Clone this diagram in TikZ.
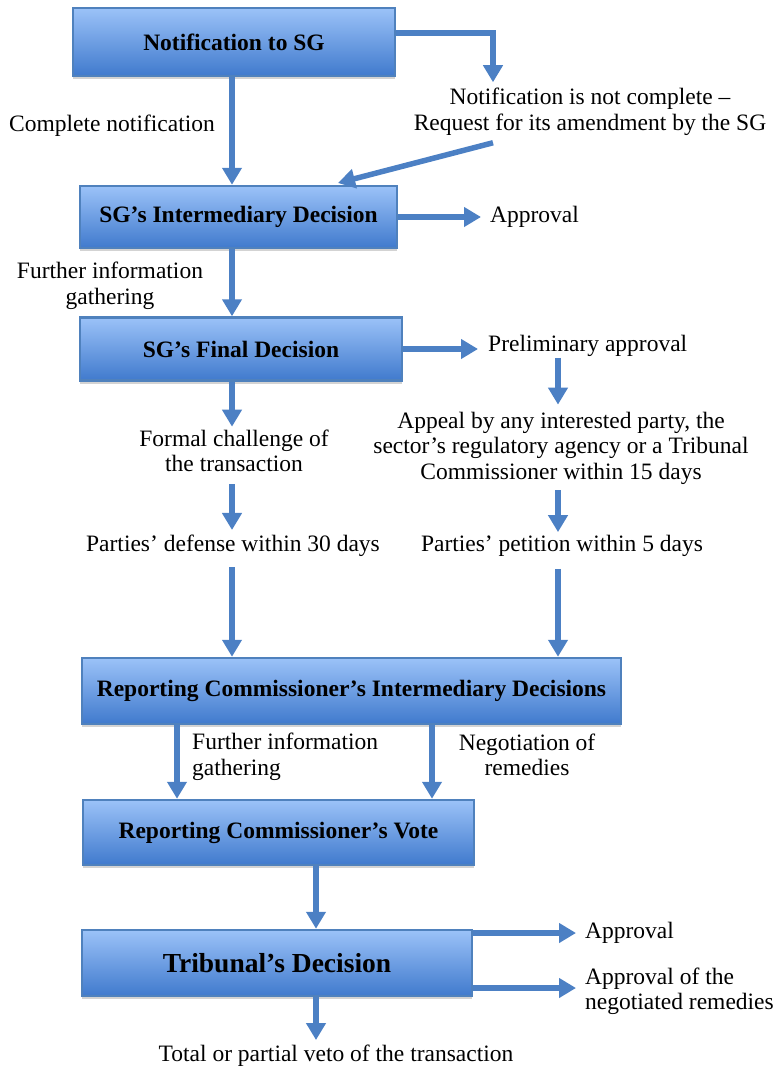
\documentclass[tikz,border=0pt]{standalone}
\usepackage{fontspec}
\setmainfont{Liberation Serif}
\usetikzlibrary{arrows.meta,shadows}
\definecolor{edgeblue}{RGB}{79,129,189}
\definecolor{topblue}{RGB}{155,194,248}
\definecolor{botblue}{RGB}{64,122,205}
\definecolor{flowblue}{RGB}{76,128,196}
\tikzset{
  stagebox/.style={draw=edgeblue, line width=2.5pt, top color=topblue, bottom color=botblue,
    drop shadow={shadow xshift=0pt, shadow yshift=-3pt, opacity=0.35},
    font=\bfseries\fontsize{23.5}{27}\selectfont, text=black, inner sep=0pt},
  flow/.style={draw=flowblue, line width=5.5pt, -{Triangle[width=19pt,length=17pt]}},
  note/.style={font=\fontsize{23.5}{25.5}\selectfont, inner sep=0pt},
}
\begin{document}
\begin{tikzpicture}[x=1pt,y=-1pt]
        \useasboundingbox (0,0) rectangle (778,1068);
        %% Columns
        \coordinate (lc) at (232,0);
        \coordinate (rc) at (558,0);
        \coordinate (bc) at (316,0);
        %% Boxes
        \node[stagebox, minimum width=322pt, minimum height=68pt] (notif) at (234,42) {Notification to SG};
        \node[stagebox, minimum width=317pt, minimum height=62pt] (interm) at (238.5,217) {SG’s Intermediary Decision};
        \node[stagebox, minimum width=322pt, minimum height=63pt] (final) at (241,349) {SG’s Final Decision};
        \node[stagebox, minimum width=539pt, minimum height=66pt] (rcinterm) at (351.5,691) {Reporting Commissioner’s Intermediary Decisions};
        \node[stagebox, minimum width=391pt, minimum height=65pt] (rcvote) at (278.5,832.5) {Reporting Commissioner’s Vote};
        \node[stagebox, minimum width=390pt, minimum height=66pt, font=\bfseries\fontsize{27.5}{31}\selectfont] (tribunal) at (277,963) {Tribunal’s Decision};
        %% Texts
        \node[note] (complete) at (112,126) {Complete notification};
        \node[note, align=center] (incomplete) at (590,112) {Notification is not complete –\\Request for its amendment by the SG};
        \node[note, anchor=west] (approvalA) at (490,217) {Approval};
        \node[note, align=center] (furtherA) at (110,286) {Further information\\gathering};
        \node[note, anchor=west] (prelim) at (488,346) {Preliminary approval};
        \node[note, align=center] (appeal) at (561,448) {Appeal by any interested party, the\\sector’s regulatory agency or a Tribunal\\Commissioner within 15 days};
        \node[note] (petition) at (562,546) {Parties’ petition within 5 days};
        \node[note, align=center] (formal) at (234,451) {Formal challenge of\\the transaction};
        \node[note] (defense) at (233,546) {Parties’ defense within 30 days};
        \node[note, align=left, anchor=west] (furtherB) at (192,757) {Further information\\gathering};
        \node[note, align=center] (negot) at (527,755) {Negotiation of\\remedies};
        \node[note, anchor=west] (approvalB) at (585,933) {Approval};
        \node[note, align=left, anchor=west] (remedies) at (585,991) {Approval of the\\negotiated remedies};
        \node[note] (veto) at (336,1056) {Total or partial veto of the transaction};
        %% Top part
        \coordinate (turn) at (493,33);
        \coordinate (back) at (338,183);
        \draw[flow] (notif.south -| lc) -- (interm.north -| lc);
        \draw[flow] (turn -| notif.east) -- (turn) -- ([yshift=6pt]incomplete.north -| turn);
        \draw[flow, -{Triangle[width=19pt,length=17pt]}] ([yshift=-7pt]incomplete.south -| turn) -- (back);
        \draw[flow] (interm.east) -- ([xshift=-9pt]approvalA.west);
        \draw[flow] (interm.south -| lc) -- (final.north -| lc);
        \draw[flow] (final.east) -- ([xshift=-10pt]final.east -| prelim.west);
        %% Left branch
        \draw[flow] (final.south -| lc) -- ([yshift=3pt]formal.north -| lc);
        \draw[flow] ([yshift=-12pt]formal.south -| lc) -- ([yshift=5pt]defense.north -| lc);
        \draw[flow] ([yshift=-10pt]defense.south -| lc) -- (rcinterm.north -| lc);
        %% Right branch
        \draw[flow] ([yshift=-1pt]prelim.south -| rc) -- ([yshift=7pt]appeal.north -| rc);
        \draw[flow] ([yshift=-6pt]appeal.south -| rc) -- ([yshift=3pt]petition.north -| rc);
        \draw[flow] ([yshift=-12pt]petition.south -| rc) -- (rcinterm.north -| rc);
        %% Commissioner
        \draw[flow] (rcinterm.south -| 177,0) -- (rcvote.north -| 177,0);
        \draw[flow] (rcinterm.south -| 432,0) -- (rcvote.north -| 432,0);
        \draw[flow] (rcvote.south -| bc) -- (tribunal.north -| bc);
        %% Tribunal
        \draw[flow] (tribunal.east |- approvalB.west) -- ([xshift=-9pt]approvalB.west);
        \draw[flow] ([yshift=3pt]tribunal.east |- remedies.west) -- ([xshift=-9pt,yshift=3pt]remedies.west);
        \draw[flow] (tribunal.south -| bc) -- ([yshift=5pt]veto.north -| bc);
\end{tikzpicture}
\end{document}
